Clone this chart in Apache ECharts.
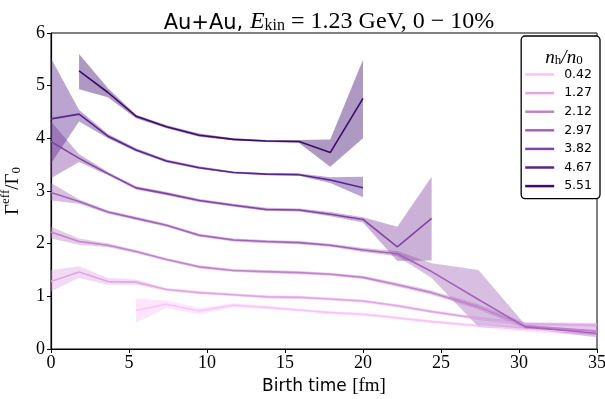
<!DOCTYPE html>
<html><head><meta charset="utf-8">
<script src="https://cdn.jsdelivr.net/npm/echarts@6/dist/echarts.min.js"></script>
<style>html,body{margin:0;padding:0;background:#fff}#c{width:605px;height:399px}</style>
</head><body><div id="c"></div>
<script>
// Birth-time sample positions [fm]
const X = [0, 1.8, 3.65, 5.45, 7.4, 9.5, 11.7, 13.8, 15.9, 17.9, 20.0, 22.2, 24.4, 27.4, 30.4, 35];
const labels = ['0.42', '1.27', '2.12', '2.97', '3.82', '4.67', '5.51'];
const colors = ['#fbc3fb', '#e0a6e4', '#c184cb', '#a263b8', '#8244a3', '#5b2590', '#3d0b6e'];

const v042 = [null, null, null, 0.73, 0.85, 0.72, 0.83, 0.79, 0.74, 0.69, 0.66, 0.59, 0.52, 0.44, 0.37, 0.31];
const lo042 = [null, null, null, 0.50, 0.78, 0.66, 0.79, 0.76, 0.71, 0.66, 0.63, 0.56, 0.49, 0.41, 0.33, 0.24];
const hi042 = [null, null, null, 0.96, 0.92, 0.78, 0.87, 0.82, 0.77, 0.72, 0.69, 0.62, 0.55, 0.47, 0.41, 0.38];

const v127 = [1.28, 1.46, 1.28, 1.27, 1.13, 1.07, 1.03, 0.99, 0.98, 0.95, 0.91, 0.82, 0.71, 0.58, 0.48, 0.46];
const lo127 = [1.09, 1.35, 1.22, 1.22, 1.10, 1.04, 1.00, 0.96, 0.95, 0.92, 0.88, 0.79, 0.68, 0.55, 0.45, 0.42];
const hi127 = [1.50, 1.57, 1.35, 1.32, 1.16, 1.10, 1.06, 1.02, 1.01, 0.98, 0.94, 0.85, 0.74, 0.61, 0.51, 0.50];

const v212 = [2.22, 2.04, 1.97, 1.85, 1.70, 1.56, 1.49, 1.47, 1.45, 1.42, 1.36, 1.22, 1.07, 0.80, 0.44, 0.34];
const lo212 = [2.10, 1.98, 1.93, 1.82, 1.67, 1.53, 1.46, 1.44, 1.42, 1.39, 1.33, 1.18, 1.03, 0.75, 0.39, 0.22];
const hi212 = [2.32, 2.10, 2.01, 1.88, 1.73, 1.59, 1.52, 1.50, 1.48, 1.45, 1.39, 1.26, 1.11, 0.85, 0.50, 0.46];

const v297 = [2.97, 2.80, 2.60, 2.48, 2.35, 2.16, 2.07, 2.04, 2.02, 1.97, 1.88, 1.81, 1.47, 0.94, 0.42, 0.30];
const lo297 = [2.82, 2.76, 2.57, 2.45, 2.32, 2.13, 2.04, 2.01, 1.99, 1.94, 1.84, 1.76, 1.35, 0.42, 0.38, 0.26];
const hi297 = [3.15, 2.84, 2.63, 2.51, 2.38, 2.19, 2.10, 2.07, 2.05, 2.00, 1.92, 1.86, 1.63, 1.50, 0.46, 0.34];

const v382 = [3.94, 3.62, 3.33, 3.06, 2.95, 2.82, 2.73, 2.65, 2.64, 2.56, 2.46, 1.94, 2.48, null, null, null];
const lo382 = [3.24, 3.55, 3.30, 3.03, 2.92, 2.79, 2.70, 2.62, 2.61, 2.52, 2.40, 1.67, 1.68, null, null, null];
const hi382 = [4.32, 3.70, 3.36, 3.09, 2.98, 2.85, 2.76, 2.68, 2.67, 2.60, 2.50, 2.32, 3.27, null, null, null];

const v467 = [4.37, 4.46, 4.04, 3.78, 3.57, 3.44, 3.35, 3.32, 3.31, 3.21, 3.06, null, null, null, null, null];
const lo467 = [3.52, 4.32, 4.00, 3.75, 3.54, 3.42, 3.33, 3.30, 3.29, 3.15, 2.88, null, null, null, null, null];
const hi467 = [5.52, 4.54, 4.08, 3.81, 3.60, 3.47, 3.37, 3.34, 3.33, 3.26, 3.27, null, null, null, null, null];

const v551 = [null, 5.28, 4.87, 4.42, 4.22, 4.06, 3.98, 3.95, 3.94, 3.73, 4.76, null, null, null, null, null];
const lo551 = [null, 4.93, 4.78, 4.38, 4.19, 4.03, 3.96, 3.93, 3.91, 3.46, 4.00, null, null, null, null, null];
const hi551 = [null, 5.60, 4.95, 4.45, 4.25, 4.09, 4.00, 3.97, 3.97, 3.98, 5.49, null, null, null, null, null];

const xTicks = [0, 5, 10, 15, 20, 25, 30, 35];
const yTicks = [0, 1, 2, 3, 4, 5, 6];

const vals = [v042, v127, v212, v297, v382, v467, v551];
const los = [lo042, lo127, lo212, lo297, lo382, lo467, lo551];
const his = [hi042, hi127, hi212, hi297, hi382, hi467, hi551];

const serif = 'Liberation Serif';
const sans = 'DejaVu Sans';
const series = [];
for (let k = 0; k < labels.length; k++) {
  const band = [];
  const line = [];
  X.forEach((x, i) => {
    if (vals[k][i] !== null) line.push([x, vals[k][i]]);
    if (los[k][i] !== null) band.push([x, los[k][i], his[k][i]]);
  });
  const col = colors[k];
  series.push({
    type: 'custom', silent: true, z: 1 + k, clip: true,
    data: band, encode: { x: 0, y: [1, 2] },
    renderItem: function (params, api) {
      if (params.dataIndex !== 0) return null;
      const top = band.map(d => api.coord([d[0], d[2]]));
      const bot = band.slice().reverse().map(d => api.coord([d[0], d[1]]));
      return { type: 'polygon', shape: { points: top.concat(bot) }, style: { fill: col, opacity: 0.42 } };
    }
  });
  series.push({
    name: labels[k], type: 'line', data: line, showSymbol: false, z: 20 + k,
    lineStyle: { color: col, width: 1.6 }, itemStyle: { color: col }, animation: false
  });
}

const nw = 'normal';
const chart = echarts.init(document.getElementById('c'), null, { renderer: 'canvas' });
chart.setOption({
  animation: false,
  backgroundColor: '#fff',
  grid: { left: 51, right: 8, top: 33, bottom: 50, show: true, borderColor: '#000', borderWidth: 1,
    containLabel: false, outerBoundsMode: 'none' },
  title: [{
    left: 324, top: 1, textAlign: 'center',
    text: '{s|Au+Au, }{i|E}{sub|kin}{m| = 1.23 GeV, 0 − 10%}',
    textStyle: {
      fontWeight: nw,
      rich: {
        s: { fontFamily: sans, fontWeight: nw, fontSize: 21, color: '#000', verticalAlign: 'bottom', lineHeight: 28 },
        i: { fontFamily: serif, fontWeight: nw, fontStyle: 'italic', fontSize: 24, color: '#000', verticalAlign: 'bottom', lineHeight: 28 },
        sub: { fontFamily: serif, fontWeight: nw, fontSize: 16, color: '#000', verticalAlign: 'bottom', lineHeight: 21 },
        m: { fontFamily: serif, fontWeight: nw, fontSize: 24, color: '#000', verticalAlign: 'bottom', lineHeight: 28 }
      }
    }
  }, {
    left: 559, top: 40, textAlign: 'center',
    text: '{i|n}{sub|h}{i|/n}{sub|0}',
    textStyle: {
      fontWeight: nw,
      rich: {
        i: { fontFamily: serif, fontWeight: nw, fontStyle: 'italic', fontSize: 19, color: '#000', verticalAlign: 'bottom', lineHeight: 22 },
        sub: { fontFamily: serif, fontWeight: nw, fontSize: 13, color: '#000', verticalAlign: 'bottom', lineHeight: 17 }
      }
    }
  }],
  legend: {
    right: 5, top: 36, orient: 'vertical', itemGap: 5.6,
    padding: [32, 8, 6, 4],
    backgroundColor: '#fff', borderColor: '#000', borderWidth: 1.3, borderRadius: 4,
    icon: 'rect', itemWidth: 29, itemHeight: 2.5,
    textStyle: { fontFamily: sans, fontSize: 12.5, color: '#000', padding: [0, 0, 0, 5] },
    data: labels
  },
  xAxis: {
    type: 'value', min: 0, max: 35, interval: 5,
    name: '{s|Birth time }{m|[fm]}', nameLocation: 'middle', nameGap: 28,
    nameTextStyle: { rich: {
      s: { fontFamily: sans, fontSize: 17, color: '#000' },
      m: { fontFamily: serif, fontSize: 19, color: '#000' } } },
    axisLine: { lineStyle: { color: '#000', width: 1 } },
    axisTick: { show: true, length: 4, lineStyle: { color: '#000' } },
    axisLabel: { fontFamily: serif, fontSize: 18, color: '#000', margin: 5,
      formatter: v => (xTicks.indexOf(v) >= 0 ? String(v) : '') },
    splitLine: { show: false }
  },
  yAxis: {
    type: 'value', min: 0, max: 6, interval: 1,
    name: '{m|Γ}{sup|eff}{m|/Γ}{sub|0}', nameLocation: 'middle', nameGap: 28, nameRotate: 90,
    nameTextStyle: { rich: {
      m: { fontFamily: serif, fontSize: 19, color: '#000', verticalAlign: 'bottom', lineHeight: 24 },
      sup: { fontFamily: serif, fontSize: 13, color: '#000', verticalAlign: 'top', lineHeight: 24 },
      sub: { fontFamily: serif, fontSize: 13, color: '#000', verticalAlign: 'bottom', lineHeight: 16 } } },
    axisLine: { show: true, lineStyle: { color: '#000', width: 1.2 } },
    axisTick: { show: true, length: 4, lineStyle: { color: '#000' } },
    axisLabel: { fontFamily: serif, fontSize: 18, color: '#000', margin: 6,
      formatter: v => (yTicks.indexOf(v) >= 0 ? String(v) : '') },
    splitLine: { show: false }
  },
  series: series
});
</script></body></html>
